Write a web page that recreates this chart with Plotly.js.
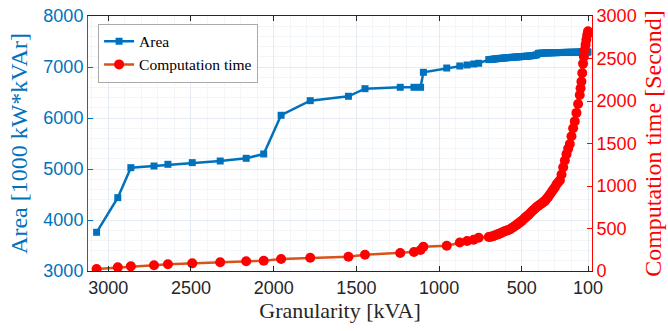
<!DOCTYPE html>
<html>
<head>
<meta charset="utf-8">
<script src="https://cdn.plot.ly/plotly-3.0.1.min.js"></script>
<style>html,body{margin:0;padding:0;background:#fff;}#chart{width:668px;height:331px;}</style>
</head>
<body>
<div id="chart"></div>
<script>
// Granularity [kVA]
const granularity = [3070, 2942, 2863, 2723, 2639, 2492, 2323, 2166, 2060, 1955, 1779, 1548, 1448, 1235, 1152, 1112, 1095, 954, 875, 831, 791, 761,
  700, 690, 680, 670, 660, 650, 640, 630, 620, 610, 600, 590, 580, 570, 560, 550, 540, 530, 520, 510, 500, 490, 480, 470, 460, 450, 440, 430, 420, 410,
  400, 390, 380, 370, 360, 350, 340, 330, 320, 310, 300, 290, 280, 270, 260, 250, 240, 230, 220, 210, 200, 190, 180, 170, 160, 150, 145, 140, 135, 130, 125, 120, 115, 110, 105, 100];
// Area [1000 kW*kVAr]
const area = [3759, 4438, 5026, 5059, 5092, 5125, 5157, 5210, 5295, 6054, 6340, 6426, 6575, 6602, 6602, 6602, 6896, 6980, 7020, 7040, 7059, 7073,
  7145, 7147, 7150, 7155, 7160, 7163, 7167, 7170, 7172, 7175, 7178, 7182, 7185, 7187, 7190, 7192, 7195, 7197, 7200, 7202, 7205, 7207, 7210, 7212, 7215, 7218, 7222, 7226, 7230, 7240,
  7268, 7270, 7272, 7274, 7275, 7276, 7277, 7278, 7279, 7280, 7281, 7282, 7283, 7284, 7285, 7286, 7286, 7287, 7288, 7288, 7289, 7290, 7290, 7291, 7291, 7292, 7292, 7292, 7292, 7293, 7293, 7293, 7293, 7294, 7294, 7294];
// Computation time [Second]
const compTime = [24, 43, 55, 67, 79, 90, 102, 114, 121, 141, 155, 168, 192, 212, 223, 247, 286, 298, 335, 353, 368, 392,
  400, 402, 405, 412, 420, 428, 435, 443, 452, 462, 470, 476, 482, 493, 505, 518, 532, 546, 560, 575, 590, 608, 628, 643, 658, 680, 700, 718, 735, 752,
  768, 782, 795, 810, 825, 850, 875, 902, 930, 958, 985, 1020, 1045, 1068, 1135, 1220, 1300, 1375, 1440, 1495, 1585, 1680, 1760, 1860, 1965, 2070, 2150, 2230, 2330, 2440, 2520, 2600, 2660, 2720, 2775, 2820];
const xTicks = [3000, 2500, 2000, 1500, 1000, 500, 100];
const yTicks = [3000, 4000, 5000, 6000, 7000, 8000];
const y2Ticks = [0, 500, 1000, 1500, 2000, 2500, 3000];

const blue = '#0072BD', red = '#FF0000', orange = '#D95319';
const tickFont = {family: 'Liberation Sans, Arial, sans-serif', size: 18};
const serif = 'Liberation Serif, Times New Roman, serif';

const traces = [
  {x: granularity, y: area, name: 'Area', type: 'scatter', mode: 'lines+markers',
   line: {color: blue, width: 2.5}, marker: {symbol: 'square', size: 7, color: blue}, yaxis: 'y'},
  {x: granularity, y: compTime, name: 'Computation time', type: 'scatter', mode: 'lines+markers',
   line: {color: orange, width: 2.5}, marker: {symbol: 'circle', size: 10, color: red}, yaxis: 'y2'}
];

const layout = {
  width: 668, height: 331,
  margin: {l: 88, r: 76, t: 16, b: 60},
  paper_bgcolor: '#fff', plot_bgcolor: '#fff',
  showlegend: true,
  legend: {x: 0.02, y: 0.97, xanchor: 'left', yanchor: 'top', bgcolor: '#fff', bordercolor: '#aaaaaa', borderwidth: 1,
           font: {family: serif, size: 15.5, color: '#000'}, itemwidth: 30, tracegroupgap: 0},
  xaxis: {range: [3122, 76], tickvals: xTicks, ticktext: xTicks.map(String), ticks: 'inside', ticklen: 5, tickcolor: '#262626',
          showline: true, linecolor: '#262626', linewidth: 1, mirror: 'ticks', zeroline: false,
          showgrid: true, gridcolor: '#e4ebf2', gridwidth: 1,
          minor: {dtick: 100, showgrid: true, gridcolor: '#f3f6f9', ticks: ''},
          tickfont: Object.assign({color: '#262626'}, tickFont),
          title: {text: 'Granularity [kVA]', font: {family: serif, size: 22, color: '#262626'}, standoff: 6}},
  yaxis: {range: [3000, 8000], tickvals: yTicks, ticks: 'inside', ticklen: 5, tickcolor: blue,
          showline: true, linecolor: blue, linewidth: 1, zeroline: false,
          showgrid: true, gridcolor: '#e4ebf2', gridwidth: 1,
          minor: {dtick: 200, showgrid: true, gridcolor: '#f3f6f9', ticks: ''},
          tickfont: Object.assign({color: blue}, tickFont),
          title: {text: 'Area [1000 kW*kVAr]', font: {family: serif, size: 24, color: blue}, standoff: 8}},
  yaxis2: {range: [0, 3000], tickvals: y2Ticks, overlaying: 'y', side: 'right', ticks: 'inside', ticklen: 5, tickcolor: red,
           showline: true, linecolor: red, linewidth: 1, zeroline: false, showgrid: false,
           tickfont: Object.assign({color: red}, tickFont),
           title: {text: 'Computation time [Second]', font: {family: serif, size: 24, color: red}, standoff: 8}}
};

Plotly.newPlot('chart', traces, layout, {displayModeBar: false, staticPlot: true});
</script>
</body>
</html>
